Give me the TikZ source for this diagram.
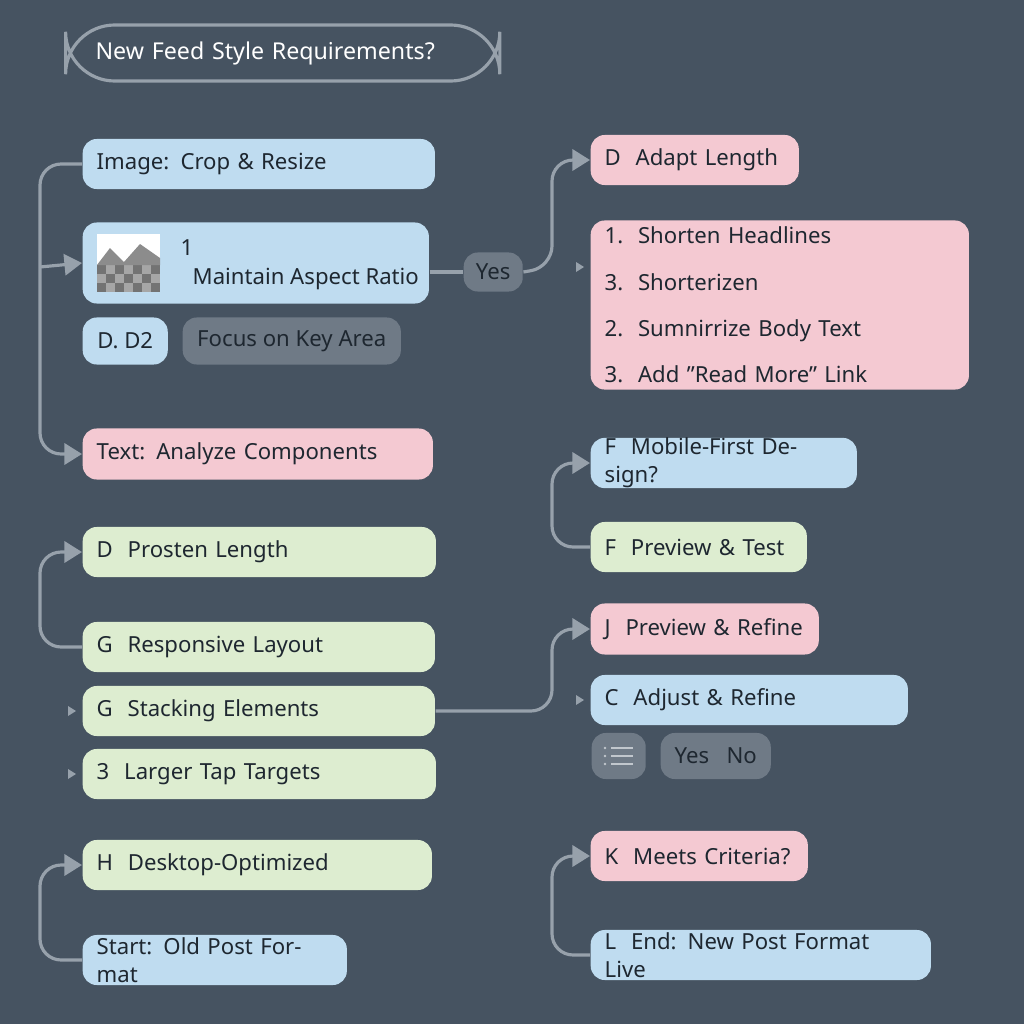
\documentclass[tikz,border=0pt]{standalone}
\usepackage{fontspec}
\setmainfont{Noto Sans}
\usetikzlibrary{arrows.meta,positioning}
\definecolor{bgc}{HTML}{465361}
\definecolor{bluec}{HTML}{BFDCF0}
\definecolor{pinkc}{HTML}{F4C9D2}
\definecolor{greenc}{HTML}{DDEDD0}
\definecolor{grayc}{HTML}{6F7A86}
\definecolor{linec}{HTML}{97A1AB}
\definecolor{txtc}{HTML}{1E2730}
\tikzset{
  box/.style={rounded corners=4pt, anchor=west, inner xsep=0.14cm, inner ysep=0pt,
    align=left, text=txtc, font=\fontsize{6.3}{8}\selectfont},
  bluebox/.style={box, fill=bluec},
  pinkbox/.style={box, fill=pinkc},
  greenbox/.style={box, fill=greenc},
  graybox/.style={box, fill=grayc, text=txtc},
  conn/.style={draw=linec, line width=0.9pt, rounded corners=6pt, -{Triangle[length=5pt,width=6pt]}},
  tip/.style={fill=linec, draw=none}
}
\begin{document}
\begin{tikzpicture}[x=0.01cm, y=-0.01cm]
    \fill[bgc] (0,0) rectangle (1024,1024);

    % title
    \node[draw=linec, line width=0.9pt, rounded corners=14pt, minimum width=4.34cm, minimum height=0.56cm,
          text=white, font=\fontsize{6.6}{8}\selectfont, anchor=west, inner xsep=0.3cm, text width=3.74cm] (title) at (64,53) {New Feed Style Requirements?};

    % left column
    \node[bluebox, text width=3.24cm, minimum height=0.5cm] (crop) at (82,164) {Image: Crop \& Resize};
    \node[bluebox, minimum width=3.46cm, minimum height=0.81cm] (aspect) at (82,263) {};
    \node[box, anchor=west] (aspecttxt) at (178,279) {Maintain Aspect Ratio};
    \node[box, anchor=west] (one) at (166,248) {1};
    \fill[white] (97,234) rectangle (160,292);
    \foreach \i in {0,...,6} \foreach \j in {0,1,2} {
      \pgfmathsetmacro{\c}{mod(\i+\j,2)==0 ? 55 : 35}
      \fill[black!\c] (97+\i*9,265+\j*9) rectangle (106+\i*9,274+\j*9);
    }
    \fill[black!45] (97,265) -- (110,248) -- (124,262) -- (140,244) -- (160,258) -- (160,265) -- cycle;
    \node[bluebox, minimum width=0.85cm, minimum height=0.47cm] (dtwo) at (82,341) {D.\ D2};
    \node[graybox, minimum width=2.18cm, minimum height=0.47cm] (focus) at (182,341) {Focus on Key Area};
    \node[pinkbox, text width=3.22cm, minimum height=0.51cm] (analyze) at (82,454) {Text: Analyze Components};
    \node[greenbox, text width=3.25cm, minimum height=0.5cm] (prosten) at (82,552) {D\ \ Prosten Length};
    \node[greenbox, text width=3.24cm, minimum height=0.5cm] (respons) at (82,647) {G\ \ Responsive Layout};
    \node[greenbox, text width=3.24cm, minimum height=0.5cm] (stack) at (82,711) {G\ \ Stacking Elements};
    \node[greenbox, text width=3.25cm, minimum height=0.5cm] (tap) at (82,774) {3\ \ Larger Tap Targets};
    \node[greenbox, text width=3.21cm, minimum height=0.5cm] (desk) at (82,865) {H\ \ Desktop-Optimized};
    \node[bluebox, text width=2.36cm, minimum height=0.5cm] (start) at (82,960) {Start: Old Post Format};

    % right column
    \node[graybox, minimum width=0.59cm, minimum height=0.39cm, inner xsep=0.1cm] (yes) at (463,272) {Yes};
    \node[pinkbox, text width=1.8cm, minimum height=0.5cm] (adapt) at (590,160) {D\ \ Adapt Length};
    \node[pinkbox, text width=3.5cm, minimum height=1.69cm, font=\fontsize{6.3}{13.2}\selectfont] (list) at (590,305)
      {1.\ \ Shorten Headlines\\3.\ \ Shorterizen\\2.\ \ Sumnirrize Body Text\\3.\ \ Add "Read More" Link};
    \node[bluebox, text width=2.38cm, minimum height=0.5cm] (mobile) at (590,463) {F\ \ Mobile-First Design?};
    \node[greenbox, text width=1.88cm, minimum height=0.5cm] (ptest) at (590,547) {F\ \ Preview \& Test};
    \node[pinkbox, text width=2.0cm, minimum height=0.51cm] (prefine) at (590,629) {J\ \ Preview \& Refine};
    \node[bluebox, text width=2.89cm, minimum height=0.5cm] (adjust) at (590,700) {C\ \ Adjust \& Refine};
    \node[graybox, minimum width=0.54cm, minimum height=0.46cm] (listicon) at (591,756) {};
    \foreach \k in {-8,0,8} {
      \fill[linec!60] (605,756+\k) circle (1.3);
      \draw[linec!60, line width=0.8pt] (611,756+\k) -- (633,756+\k);
    }
    \node[graybox, minimum width=1.08cm, minimum height=0.46cm] (yesno) at (660,756) {Yes\ \ \ No};
    \node[pinkbox, text width=1.89cm, minimum height=0.5cm] (criteria) at (590,856) {K\ \ Meets Criteria?};
    \node[bluebox, text width=3.12cm, minimum height=0.5cm] (endn) at (590,955) {L\ \ End: New Post Format Live};

    % connectors
    \coordinate (lt) at (40,164);
    \draw[conn] (crop.west) -- (lt) |- (analyze.west);
    \draw[conn] (40,267) -- (aspect.west);
    \draw[conn] (respons.west) -- (40,647) |- (prosten.west);
    \draw[conn] (start.west) -- (40,960) |- (desk.west);
    \draw[draw=linec, line width=0.9pt] (aspect.east |- yes.west) -- (yes.west);
    \draw[conn] (yes.east) -- (552,267) |- (adapt.west);
    \draw[conn] (ptest.west) -- (552,547) |- (mobile.west);
    \draw[conn] (stack.east) -- (552,711) |- (prefine.west);
    \draw[conn] (endn.west) -- (552,955) |- (criteria.west);
    % loose tips
    \foreach \px/\py in {72/711, 72/774, 580/267, 580/700}
      \fill[tip] (\px-4,\py-5) -- (\px+4,\py) -- (\px-4,\py+5) -- cycle;
\end{tikzpicture}
\end{document}
